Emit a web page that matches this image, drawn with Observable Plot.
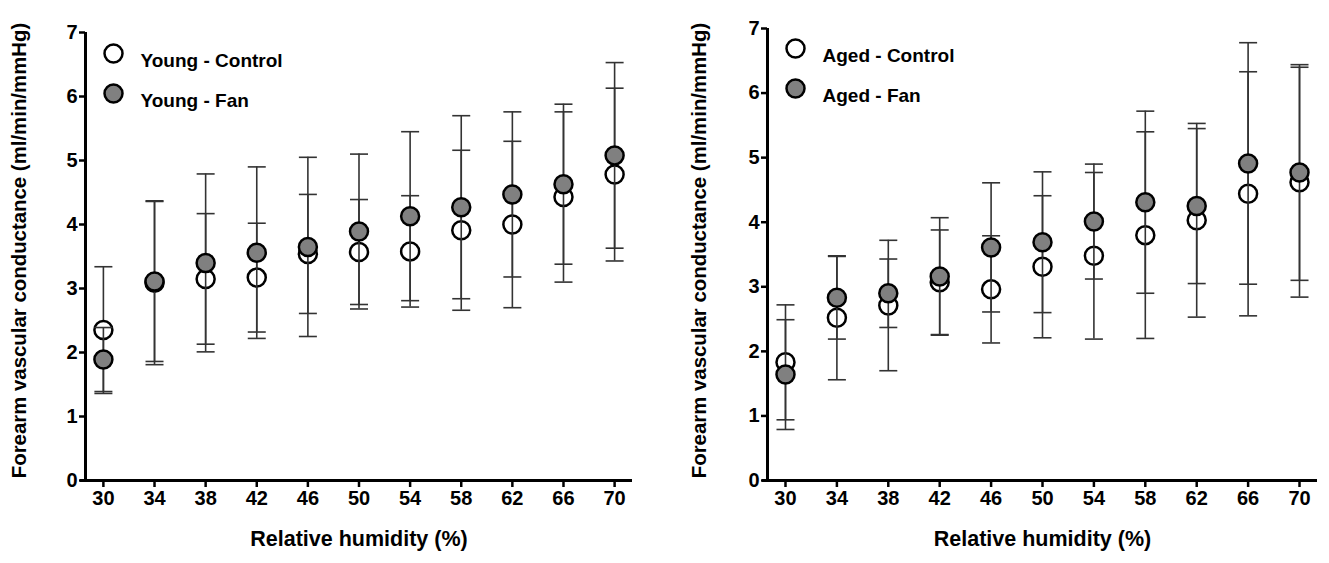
<!DOCTYPE html>
<html>
<head>
<meta charset="utf-8">
<script src="https://cdn.jsdelivr.net/npm/d3@7"></script>
<script src="https://cdn.jsdelivr.net/npm/@observablehq/plot@0.6"></script>
<style>
  html, body { margin: 0; padding: 0; background: #fff; }
  #wrap { display: flex; width: 1329px; height: 563px; }
  #wrap svg [aria-label="x-axis tick label"] text,
  #wrap svg [aria-label="y-axis tick label"] text { font-size: 20px; font-weight: bold; }
</style>
</head>
<body>
<div id="wrap"></div>
<script>
// ---- data ----
const humidity = [30, 34, 38, 42, 46, 50, 54, 58, 62, 66, 70];
const yTicks = [0, 1, 2, 3, 4, 5, 6, 7];

const youngControlMean = [2.35, 3.09, 3.15, 3.17, 3.54, 3.57, 3.58, 3.91, 4.00, 4.43, 4.78];
const youngControlErr  = [0.99, 1.28, 1.02, 0.85, 0.93, 0.82, 0.87, 1.25, 1.30, 1.33, 1.35];
const youngFanMean     = [1.89, 3.11, 3.40, 3.56, 3.65, 3.89, 4.13, 4.27, 4.47, 4.63, 5.08];
const youngFanErr      = [0.50, 1.25, 1.39, 1.34, 1.40, 1.21, 1.32, 1.43, 1.29, 1.25, 1.45];

const agedControlMean = [1.83, 2.52, 2.71, 3.07, 2.96, 3.31, 3.48, 3.80, 4.03, 4.44, 4.62];
const agedControlErr  = [0.89, 0.96, 1.01, 0.81, 0.83, 1.10, 1.29, 1.60, 1.50, 1.89, 1.78];
const agedFanMean     = [1.64, 2.83, 2.90, 3.16, 3.61, 3.69, 4.01, 4.31, 4.25, 4.91, 4.77];
const agedFanErr      = [0.85, 0.64, 0.53, 0.91, 1.00, 1.09, 0.89, 1.41, 1.20, 1.87, 1.67];

const xTitle = "Relative humidity (%)";
const yTitle = "Forearm vascular conductance (ml/min/mmHg)";
const xDomain = [28.6, 71.4];
const yDomain = [0, 7];

// ---- helpers ----
const rows = (mean, err) => humidity.map((h, i) => ({rh: h, m: mean[i], lo: mean[i] - err[i], hi: mean[i] + err[i]}));
const capSymbol = { draw(ctx) { ctx.moveTo(-9, 0); ctx.lineTo(9, 0); } };
const barColor = "#333";
const fanFill = "#808080";
const font = "'Liberation Sans', Arial, Helvetica, sans-serif";

function errorMarks(data) {
  return [
    Plot.ruleX(data, {x: "rh", y1: "lo", y2: "hi", stroke: barColor, strokeWidth: 1.6}),
    Plot.dot(data, {x: "rh", y: "hi", symbol: capSymbol, r: 9, stroke: barColor, strokeWidth: 1.6, fill: "none"}),
    Plot.dot(data, {x: "rh", y: "lo", symbol: capSymbol, r: 9, stroke: barColor, strokeWidth: 1.6, fill: "none"})
  ];
}

function panel(cfg) {
  const ctrl = rows(cfg.ctrlMean, cfg.ctrlErr);
  const fan = rows(cfg.fanMean, cfg.fanErr);
  return Plot.plot({
    width: cfg.width,
    height: 563,
    marginLeft: cfg.ml,
    marginRight: cfg.mr,
    marginTop: cfg.mt,
    marginBottom: 83,
    style: {fontFamily: font, fontWeight: "bold", fontSize: "20px", color: "#000", background: "#fff", overflow: "visible"},
    x: {domain: xDomain},
    y: {domain: yDomain},
    marks: [
      Plot.axisX({ticks: humidity, tickFormat: "d", tickSize: 7, tickPadding: 3, fontSize: 20, fontWeight: "bold", strokeWidth: 2.5, label: null}),
      Plot.axisY({ticks: yTicks, tickFormat: "d", tickSize: 6, tickPadding: 2, fontSize: 20, fontWeight: "bold", strokeWidth: 2.5, label: null}),
      Plot.ruleY([0], {stroke: "#000", strokeWidth: 3, insetLeft: -5}),
      Plot.ruleX([xDomain[0]], {stroke: "#000", strokeWidth: 3}),
      ...errorMarks(ctrl),
      Plot.dot(ctrl, {x: "rh", y: "m", r: 9, fill: "#fff", stroke: "#000", strokeWidth: 2.5}),
      ...errorMarks(fan),
      Plot.dot(fan, {x: "rh", y: "m", r: 9, fill: fanFill, stroke: "#000", strokeWidth: 2.5}),
      // legend
      Plot.dot([cfg.ctrlLabel], {x: null, y: null, frameAnchor: "top-left", dx: 28, dy: cfg.legDy[0], r: 9, fill: "#fff", stroke: "#000", strokeWidth: 2.5}),
      Plot.dot([cfg.fanLabel], {x: null, y: null, frameAnchor: "top-left", dx: 28, dy: cfg.legDy[1], r: 9, fill: fanFill, stroke: "#000", strokeWidth: 2.5}),
      Plot.text([cfg.ctrlLabel], {text: d => d, frameAnchor: "top-left", dx: 55, dy: cfg.legDy[0], textAnchor: "start", fontSize: 19, fontWeight: "bold", fill: "#000"}),
      Plot.text([cfg.fanLabel], {text: d => d, frameAnchor: "top-left", dx: 55, dy: cfg.legDy[1], textAnchor: "start", fontSize: 19, fontWeight: "bold", fill: "#000"}),
      // axis titles
      Plot.text([xTitle], {text: d => d, frameAnchor: "bottom", textAnchor: "middle", dy: 65, fontSize: 21.5, fontWeight: "bold", fill: "#000"}),
      Plot.text([yTitle], {text: d => d, frameAnchor: "left", textAnchor: "middle", rotate: -90, dx: cfg.yTitleDx, dy: cfg.yTitleDy, fontSize: 20.4, fontWeight: "bold", fill: "#000"})
    ]
  });
}

const wrap = document.getElementById("wrap");
wrap.append(panel({
  width: 664, ml: 85, mr: 32, mt: 32,
  ctrlMean: youngControlMean, ctrlErr: youngControlErr,
  fanMean: youngFanMean, fanErr: youngFanErr,
  ctrlLabel: "Young - Control", fanLabel: "Young - Fan",
  legDy: [21, 61], yTitleDx: -66, yTitleDy: -6
}));
wrap.append(panel({
  width: 665, ml: 103, mr: 12, mt: 28,
  ctrlMean: agedControlMean, ctrlErr: agedControlErr,
  fanMean: agedFanMean, fanErr: agedFanErr,
  ctrlLabel: "Aged - Control", fanLabel: "Aged - Fan",
  legDy: [20, 60], yTitleDx: -68, yTitleDy: -4
}));
</script>
</body>
</html>
